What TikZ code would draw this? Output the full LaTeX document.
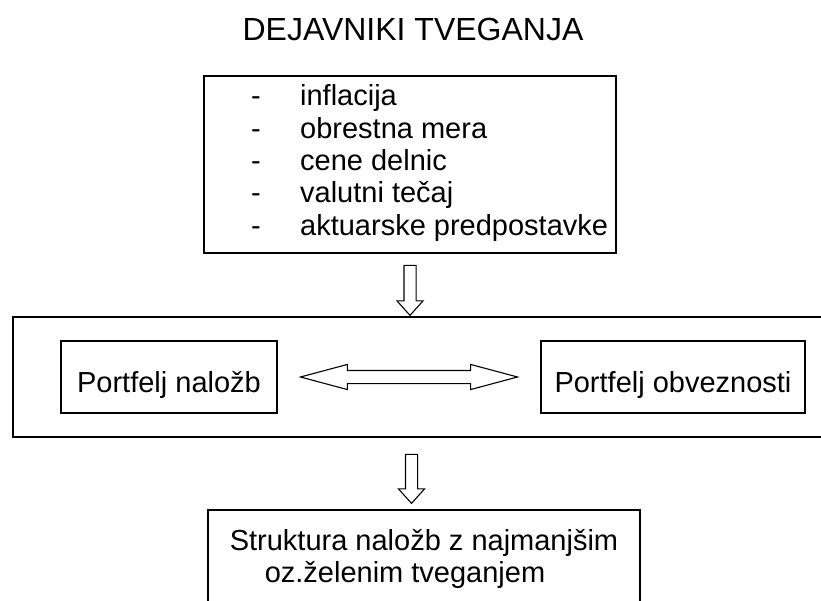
\documentclass[tikz,border=0pt]{standalone}
\usepackage{fontspec}
\setmainfont{Liberation Sans}
\usetikzlibrary{shapes.arrows, positioning, calc}

\begin{document}
\begin{tikzpicture}[x=1pt, y=-1pt]
    % Define styles
    \tikzset{
        frame box/.style={
            rectangle,
            draw=black,
            line width=1.8pt,
            inner sep=0pt
        },
        portfolio box/.style={
            frame box,
            minimum height=72pt,
            text height=32pt,
            text depth=2pt,
            font=\fontsize{29}{32}\selectfont
        },
        down arrow/.style={
            single arrow,
            draw=black,
            line width=1.1pt,
            shape border rotate=270,
            minimum width=25pt,
            single arrow head extend=7pt,
            single arrow tip angle=84,
            inner sep=5.5pt
        },
        both arrow/.style={
            double arrow,
            draw=black,
            line width=1.1pt,
            minimum width=24pt,
            double arrow head extend=6pt,
            double arrow tip angle=30,
            inner sep=6pt
        },
        body text/.style={font=\fontsize{29}{32.3}\selectfont}
    }

    % Page, the lower frames run off its edges
    \clip (0,0) rectangle (821,601);

    % Title
    \node[anchor=base, inner sep=0pt, font=\fontsize{32}{36}\selectfont] (title) at (413,41) {DEJAVNIKI TVEGANJA};

    % Risk factors
    \node[frame box, minimum width=412pt, minimum height=177pt] (risks) at (410,164.5) {};
    \node[body text, anchor=base west, inner sep=0pt] (risklist) at (251,106) {%
        \begin{tabular}[t]{@{}p{49pt}@{}l@{}}
            - & inflacija\\
            - & obrestna mera\\
            - & cene delnic\\
            - & valutni tečaj\\
            - & aktuarske predpostavke
        \end{tabular}};

    % Middle frame with both portfolios
    \node[frame box, minimum width=830pt, minimum height=120pt] (balance) at (427.7,377) {};
    \node[portfolio box, minimum width=216pt] (assets) at (169,377) {Portfelj naložb};
    \node[portfolio box, minimum width=264pt] (liabilities) at (673,377) {Portfelj obveznosti};
    \node[both arrow, minimum height=217pt] (match) at ($(assets.east)!0.5!(liabilities.west)$) {};

    % Outcome
    \node[frame box, anchor=north, minimum width=432pt, inner ysep=18pt, font=\fontsize{29}{32}\selectfont] (outcome) at (424,509) {%
        \begin{tabular}[t]{@{}l@{}}
            Struktura naložb z najmanjšim\\
            \hspace{35pt}oz.želenim tveganjem
        \end{tabular}};

    % Block arrows between the frames
    \node[down arrow, minimum height=50pt] (step1) at (410,287) {};
    \node[down arrow, minimum height=49pt] (step2) at (411.5,475.5) {};

\end{tikzpicture}
\end{document}
